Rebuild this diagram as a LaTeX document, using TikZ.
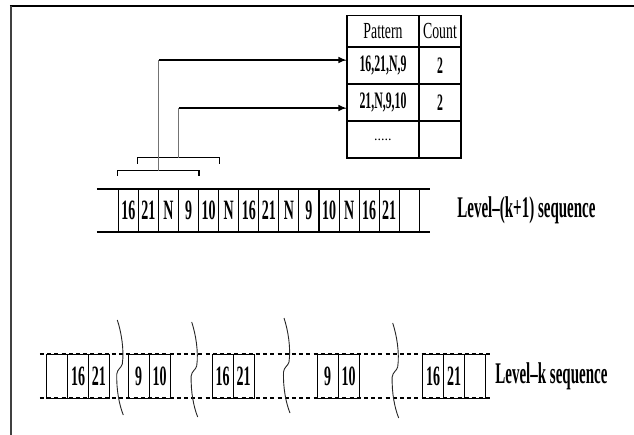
\documentclass[tikz,border=0pt]{standalone}
\usepackage{fontspec}
\setmainfont{Liberation Serif}
\newfontfamily\seqfont[FakeStretch=0.5]{Liberation Serif}
\newfontfamily\tabfont[FakeStretch=0.6]{Liberation Serif}
\usetikzlibrary{arrows.meta}

\begin{document}
\begin{tikzpicture}[x=0.5pt, y=-0.5pt,
    frame/.style={line width=1pt},
    leftrule/.style={line width=0.7pt, black!75},
    seqline/.style={line width=0.7pt},
    gapline/.style={line width=0.7pt, dash pattern=on 2pt off 1.6pt},
    cell/.style={draw, line width=0.5pt, minimum width=10.04pt, minimum height=21.5pt, inner sep=0pt,
      font=\seqfont\bfseries\fontsize{14}{16}\selectfont},
    kcell/.style={cell, minimum width=10.45pt, minimum height=22pt},
    seqlabel/.style={inner sep=0pt, font=\seqfont\bfseries\fontsize{15}{17}\selectfont},
    tcell/.style={draw, line width=0.6pt, inner sep=0pt, font=\tabfont\fontsize{11.5}{13}\selectfont},
    patcol/.style={tcell, minimum width=36pt},
    cntcol/.style={tcell, minimum width=21pt},
    bold/.style={font=\seqfont\bfseries\fontsize{11.8}{13}\selectfont},
    brace/.style={line width=0.6pt},
    riser/.style={line width=0.5pt, black!55},
    link/.style={line width=0.7pt, -{Latex[length=4pt, width=3.4pt]}},
    wave/.style={line width=0.45pt, black!85}
  ]
    \useasboundingbox (0,0) rectangle (634,435);
    \draw[frame] (10,6) -- (634,6);
    \draw[leftrule] (11,6) -- (11,435);

    % pattern table
    \node[patcol, minimum height=15.75pt] (pat0) at (383,31.25) {Pattern};
    \node[cntcol, minimum height=15.75pt] (cnt0) at (440,31.25) {Count};
    \node[patcol, minimum height=18.5pt, bold] (pat1) at (383,65.5) {16,21,N,9};
    \node[cntcol, minimum height=18.5pt, bold] (cnt1) at (440,65.5) {2};
    \node[patcol, minimum height=18.5pt, bold] (pat2) at (383,102.5) {21,N,9,10};
    \node[cntcol, minimum height=18.5pt, bold] (cnt2) at (440,102.5) {2};
    \node[patcol, minimum height=18.5pt, font=\fontsize{7}{8}\selectfont] (pat3) at (383,139.5) {.....};
    \node[cntcol, minimum height=18.5pt] (cnt3) at (440,139.5) {};

    % level-(k+1) sequence
    \draw[seqline] (97,189) -- (430,189);
    \draw[seqline] (97,232) -- (430,232);
    \foreach \t [count=\i] in {16,21,N,9,10,N,16,21,N,9,10,N,16,21,{}} {
      \node[cell] (u\i) at ({118.3+20.07*(\i-0.5)},210.5) {\t};
    }
    \node[seqlabel, anchor=west] (lvlup) at (457,210.5) {Level–(k+1) sequence};

    % brackets over the two windows
    \draw[brace] ([yshift=6.5pt]u1.north west) -- ++(0,-5) -| ([yshift=6.5pt]u4.north east);
    \draw[brace] ([yshift=12.5pt]u2.north west) -- ++(0,-6) -| ([yshift=12.5pt]u5.north east);
    \coordinate (brA) at (158.8,171);
    \coordinate (brB) at (178.8,158);

    \draw[riser] (brA) |- ([yshift=2.75pt]pat1.west);
    \draw[link] ([yshift=2.75pt]pat1.west -| brA) -- ([yshift=2.75pt]pat1.west);
    \draw[riser] (brB) |- ([yshift=-2.75pt]pat2.west);
    \draw[link] ([yshift=-2.75pt]pat2.west -| brB) -- ([yshift=-2.75pt]pat2.west);

    % level-k sequence
    \draw[gapline] (40,354) -- (493,354);
    \draw[gapline] (40,398) -- (493,398);
    \foreach \t/\xx [count=\i] in {{}/57.15, 16/78.05, 21/98.95, 9/138.75, 10/159.65, 16/222.75, 21/243.65,
        9/327.75, 10/348.65, 16/433.15, 21/454.05, {}/474.95} {
      \node[kcell] (l\i) at (\xx,376) {\t};
    }
    \node[seqlabel, anchor=west] (lvlk) at (495,376) {Level–k sequence};

    % break marks
    \foreach \bx/\by in {117.3/320, 191.7/322, 284/318, 392.7/323} {
      \draw[wave, shift={(\bx,\by)}] (0,0) .. controls (4,12) and (7,30) .. (5,44)
        .. controls (4,48) and (0,49) .. (-0.5,54)
        .. controls (-1,70) and (2,85) .. (6,95);
    }
  \end{tikzpicture}
\end{document}
